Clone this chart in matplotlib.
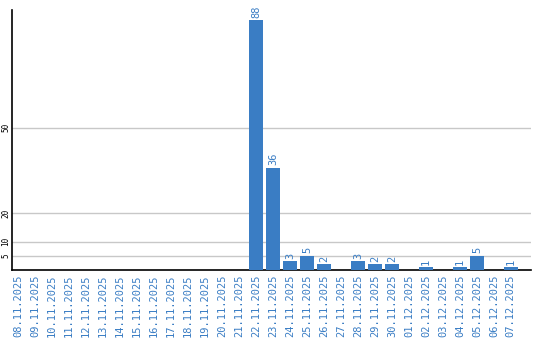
import matplotlib
matplotlib.use("Agg")
import matplotlib.pyplot as plt

dates = ["08.11.2025", "09.11.2025", "10.11.2025", "11.11.2025", "12.11.2025",
         "13.11.2025", "14.11.2025", "15.11.2025", "16.11.2025", "17.11.2025",
         "18.11.2025", "19.11.2025", "20.11.2025", "21.11.2025", "22.11.2025",
         "23.11.2025", "24.11.2025", "25.11.2025", "26.11.2025", "27.11.2025",
         "28.11.2025", "29.11.2025", "30.11.2025", "01.12.2025", "02.12.2025",
         "03.12.2025", "04.12.2025", "05.12.2025", "06.12.2025", "07.12.2025"]
values = [0, 0, 0, 0, 0, 0, 0, 0, 0, 0, 0, 0, 0, 0, 88, 36, 3, 5, 2, 0,
          3, 2, 2, 0, 1, 0, 1, 5, 0, 1]
yticks = [5, 10, 20, 50]

blue = "#3a7dc4"
fig = plt.figure(figsize=(5.4, 3.4), dpi=100)
ax = fig.add_axes([0.0222, 0.206, 0.961, 0.765])
x = list(range(len(dates)))
bars = ax.bar(x, values, width=0.82, color=blue, zorder=3)
for xi, v in zip(x, values):
    if v > 0:
        ax.text(xi, v + 0.8, str(v), rotation=90, ha="center", va="bottom",
                color=blue, fontsize=7.5, family="DejaVu Sans Mono")
ax.set_xlim(-0.353, 30.18)
ax.set_ylim(0, 91.5)
ax.set_yticks(yticks)
ax.set_yticklabels([str(t) for t in yticks], rotation=90, va="center",
                   fontsize=5.5, family="DejaVu Sans Mono")
ax.set_xticks(x)
ax.set_xticklabels(dates, rotation=90, fontsize=7.5, color=blue,
                   family="DejaVu Sans Mono")
ax.tick_params(axis="x", length=0, pad=3)
ax.tick_params(axis="y", length=0, pad=1)
ax.grid(axis="y", color="#c8c8c8", linewidth=1, zorder=0)
for s in ["top", "right"]:
    ax.spines[s].set_visible(False)
ax.spines["left"].set_linewidth(1.2)
ax.spines["bottom"].set_linewidth(1.2)
fig.savefig("out.png", dpi=100)
